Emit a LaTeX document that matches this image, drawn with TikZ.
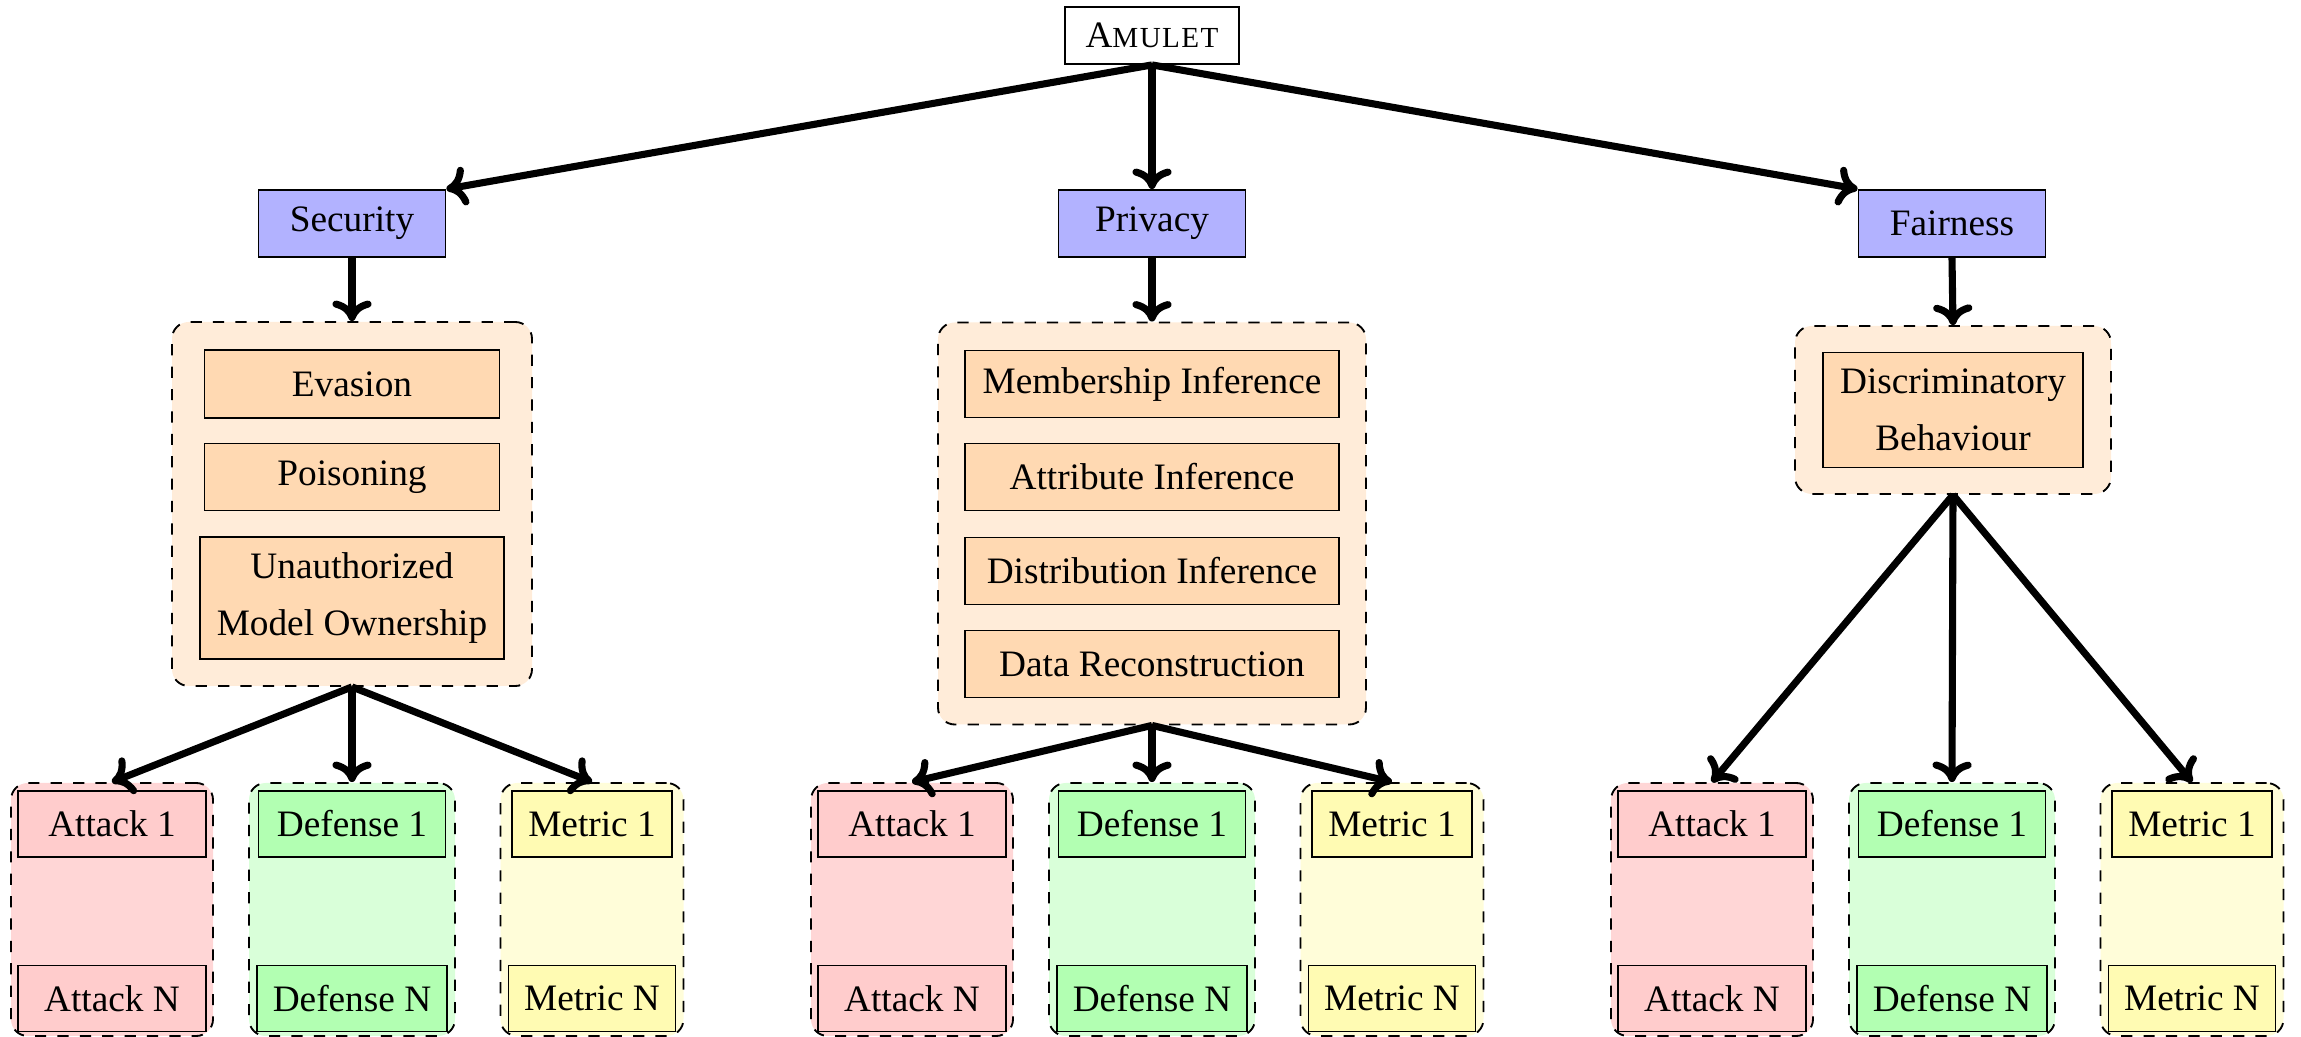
\documentclass[tikz,border=0pt]{standalone}
\usepackage{fontspec}
\setmainfont{Liberation Serif}
\usetikzlibrary{arrows.meta}
\newdimen\px \px=0.268pt
\tikzset{
  rootbox/.style={draw, line width=0.5pt, fill=white, inner sep=0pt, minimum width=174\px, minimum height=57\px},
  catbox/.style={draw, line width=0.5pt, fill=blue!30, inner sep=0pt, minimum width=187\px, minimum height=67\px},
  groupbox/.style={draw, line width=0.5pt, dashed, rounded corners=4.5pt, inner sep=0pt},
  itembox/.style={draw, line width=0.5pt, fill=orange!30, inner sep=0pt, align=center, font={\fontsize{10pt}{15.3pt}\selectfont}},
  leafbox/.style={draw, line width=0.5pt, inner sep=0pt, minimum height=66\px},
  arr/.style={-{To[length=5.5pt, width=10.5pt]}, line width=1.9pt},
}
\begin{document}
\begin{tikzpicture}[x=0.268pt, y=-0.268pt]
\useasboundingbox (0,0) rectangle (2301,1037);
% root
\node[rootbox] (amulet) at (1152,35.5) {A{\fontsize{7.8pt}{9pt}\selectfont\addfontfeature{LetterSpace=5}MULET}};
% categories
\node[catbox] (sec) at (352,223.5) {Security};
\node[catbox] (pri) at (1152,223.5) {Privacy};
\node[catbox] (fai) at (1952,223.5) {Fairness};
% containers
\node[groupbox, fill=orange!15, minimum width=360\px, minimum height=364\px] (secbox) at (352,504) {};
\node[groupbox, fill=orange!15, minimum width=428\px, minimum height=402\px] (pribox) at (1152,523.5) {};
\node[groupbox, fill=orange!15, minimum width=316\px, minimum height=168\px] (faibox) at (1953,410) {};
% security items
\node[itembox, minimum width=295\px, minimum height=68\px] (eva) at (352,384) {Evasion};
\node[itembox, minimum width=295\px, minimum height=67\px] (poi) at (352,477) {Poisoning};
\node[itembox, minimum width=304\px, minimum height=122\px] (una) at (352,598) {Unauthorized\\Model Ownership};
% privacy items
\node[itembox, minimum width=374\px, minimum height=67\px] (mi) at (1152,384) {Membership Inference};
\node[itembox, minimum width=374\px, minimum height=67\px] (ai) at (1152,477) {Attribute Inference};
\node[itembox, minimum width=374\px, minimum height=67\px] (di) at (1152,571) {Distribution Inference};
\node[itembox, minimum width=374\px, minimum height=67\px] (dr) at (1152,664) {Data Reconstruction};
% fairness items
\node[itembox, minimum width=260\px, minimum height=115\px] (dis) at (1953,410) {Discriminatory\\Behaviour};
% leaf groups
\foreach \g/\off in {1/0, 2/800, 3/1600} {
  \node[groupbox, fill=red!16, minimum width=202\px, minimum height=253\px] (attc-\g) at (112+\off,909.5) {};
  \node[groupbox, fill=green!15, minimum width=206\px, minimum height=253\px] (defc-\g) at (352+\off,909.5) {};
  \node[groupbox, fill=yellow!15, minimum width=183\px, minimum height=253\px] (metc-\g) at (592+\off,909.5) {};
  \node[leafbox, fill=red!20, minimum width=188\px] (att1-\g) at (112+\off,824) {Attack 1};
  \node[leafbox, fill=red!20, minimum width=188\px] (attN-\g) at (112+\off,998.5) {Attack N};
  \node[leafbox, fill=green!30, minimum width=187\px] (def1-\g) at (352+\off,824) {Defense 1};
  \node[leafbox, fill=green!30, minimum width=190\px] (defN-\g) at (352+\off,998.5) {Defense N};
  \node[leafbox, fill=yellow!30, minimum width=160\px] (met1-\g) at (592+\off,824) {Metric 1};
  \node[leafbox, fill=yellow!30, minimum width=167\px] (metN-\g) at (592+\off,998.5) {Metric N};
}
% arrows
\draw[arr] (amulet.south) -- (sec.north east);
\draw[arr] (amulet.south) -- (pri.north);
\draw[arr] (amulet.south) -- (fai.north west);
\draw[arr] (sec.south) -- (secbox.north);
\draw[arr] (pri.south) -- (pribox.north);
\draw[arr] (fai.south) -- (faibox.north);
\foreach \src/\g in {secbox/1, pribox/2, faibox/3} {
  \draw[arr] (\src.south) -- (attc-\g.north);
  \draw[arr] (\src.south) -- (defc-\g.north);
  \draw[arr] (\src.south) -- (metc-\g.north);
}
\end{tikzpicture}
\end{document}
